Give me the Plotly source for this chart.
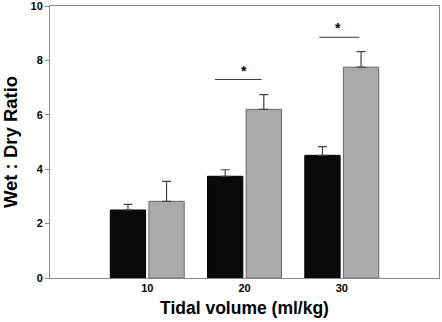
import plotly.graph_objects as go

tidal_volume = [10, 20, 30]
tick_labels = ["10", "20", "30"]
group_a = [2.50, 3.74, 4.51]
group_a_err = [0.21, 0.24, 0.32]
group_b = [2.82, 6.20, 7.75]
group_b_err = [0.73, 0.54, 0.57]
y_ticks = [0, 2, 4, 6, 8, 10]

# significance markers: line start, line end, line level, star position
sig_x0 = [16.97, 27.69]
sig_x1 = [21.76, 31.80]
sig_y = [7.30, 8.85]
sig_star_x = [19.95, 29.65]
sig_star_y = [7.62, 9.18]

FONT = "Liberation Sans, Arial, sans-serif"

fig = go.Figure()
fig.add_trace(go.Bar(
    x=tidal_volume, y=group_a, width=3.63, offset=-3.80,
    marker=dict(color="#0a0a0a", line=dict(color="#000000", width=1)),
    error_y=dict(type="data", array=group_a_err, arrayminus=[0]*3, symmetric=False,
                 color="#444444", thickness=1.2, width=4.5),
    showlegend=False,
))
fig.add_trace(go.Bar(
    x=tidal_volume, y=group_b, width=3.63, offset=0.17,
    marker=dict(color="#aaaaaa", line=dict(color="#666666", width=1)),
    error_y=dict(type="data", array=group_b_err, arrayminus=[0]*3, symmetric=False,
                 color="#444444", thickness=1.2, width=4.5),
    showlegend=False,
))

for x0, x1, y in zip(sig_x0, sig_x1, sig_y):
    fig.add_shape(type="line", xref="x", yref="y", x0=x0, x1=x1, y0=y, y1=y,
                  line=dict(color="#333333", width=1))
for sx, sy in zip(sig_star_x, sig_star_y):
    fig.add_annotation(x=sx, y=sy, xref="x", yref="y", text="<b>*</b>", showarrow=False,
                       font=dict(family=FONT, size=14, color="#000000"))

fig.update_layout(
    width=442, height=322,
    margin=dict(l=50, r=3, t=6, b=44),
    paper_bgcolor="white", plot_bgcolor="white",
    barmode="overlay",
    font=dict(family=FONT, color="#000000"),
)
fig.update_xaxes(
    range=[0, 40], tickvals=tidal_volume, ticktext=["<b>%s</b>" % t for t in tick_labels],
    tickfont=dict(size=11), ticks="", showgrid=False, zeroline=False,
    showline=True, linecolor="#888888", linewidth=1, mirror=True, automargin=False,
    title=dict(text="<b>Tidal volume (ml/kg)</b>", font=dict(size=17.5), standoff=8),
)
fig.update_yaxes(
    range=[0, 10], tickvals=y_ticks,
    ticktext=["<b>%d</b>" % v for v in y_ticks],
    tickfont=dict(size=11), ticks="outside", ticklen=4, tickcolor="#888888",
    ticklabeloverflow="allow",
    showgrid=False, zeroline=False, automargin=False,
    showline=True, linecolor="#888888", linewidth=1, mirror=True,
    title=dict(text="<b>Wet : Dry Ratio</b>", font=dict(size=18.5), standoff=13),
)

fig.write_html("out.html", config={"displayModeBar": False},
               post_script="document.body.style.margin='0';")
